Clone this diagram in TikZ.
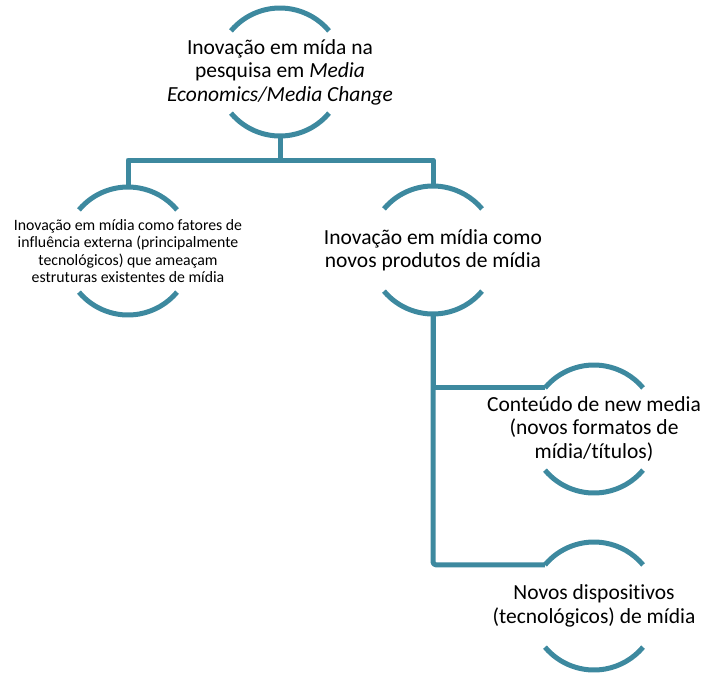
\documentclass[tikz,border=0pt]{standalone}
\usepackage{fontspec}
\setmainfont{Carlito}[Ligatures={NoCommon}]
\usetikzlibrary{calc}
\definecolor{teal1}{RGB}{61,137,159}
\begin{document}
\begin{tikzpicture}[x=1pt,y=1pt,
  hub/.style={circle,draw=none,minimum size=128pt,inner sep=0pt,outer sep=0pt},
  label/.style={align=center,text=black,inner sep=0pt},
  big/.style={label,font=\fontsize{21.5}{23.4}\selectfont},
  small/.style={label,font=\fontsize{15.8}{17.6}\selectfont},
  link/.style={draw=teal1,line width=5pt,line join=round},
  arcline/.style={draw=teal1,line width=5pt}]
\useasboundingbox (0,0) rectangle (702,-673);

% circular hubs (only their upper and lower arcs are drawn)
\node[hub] (top) at (280,-72) {};
\node[hub] (left) at (128,-251) {};
\node[hub] (right) at (433,-250) {};
\node[hub] (c1) at (594,-429) {};
\node[hub] (c2) at (594,-606) {};

% texts inside the hubs
\node[big] (toptxt) at (top) {Inovação em mída na\\pesquisa em \textit{Media}\\\textit{Economics/Media Change}};
\node[small] (lefttxt) at (left) {Inovação em mídia como fatores de\\influência externa (principalmente\\tecnológicos) que ameaçam\\estruturas existentes de mídia};
\node[big] (righttxt) at (right) {Inovação em mídia como\\novos produtos de mídia};
\node[big] (c1txt) at (c1) {Conteúdo de new media\\(novos formatos de\\mídia/títulos)};
\node[big] (c2txt) at (c2) {Novos dispositivos\\(tecnológicos) de mídia};

% top and bottom arcs of every hub
\foreach \n in {top,left,right,c1,c2}{
  \draw[arcline] (\n.140) arc[start angle=140,end angle=40,radius=64pt];
  \draw[arcline] (\n.220) arc[start angle=220,end angle=320,radius=64pt];
}

% connectors
\coordinate (split) at (280,-160);
\draw[link] (top.south) -- (split);
\draw[link] (left.north) |- (split) -| (right.north);
\draw[link,rounded corners=3pt] (right.south) |- (c2.140);
\draw[link] (c1.140) -| (right.south);
\end{tikzpicture}
\end{document}
